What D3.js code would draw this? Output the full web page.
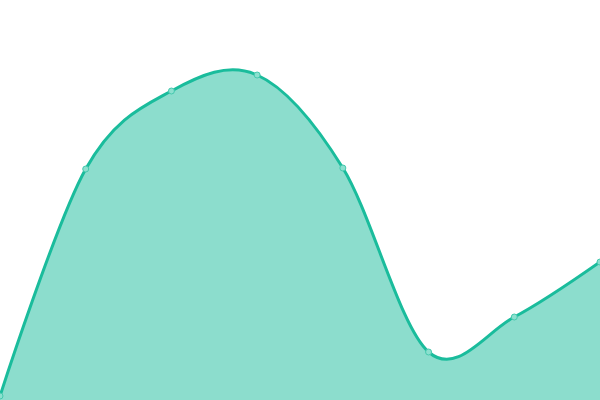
<!DOCTYPE html>
<html>
<head>
<meta charset="utf-8">
<script src="https://cdn.jsdelivr.net/npm/d3@7"></script>
<style>
  html, body { margin:0; padding:0; background:#fff; }
  svg { display:block; }
</style>
</head>
<body>
<svg id="svg-area" width="600" height="400"></svg>
<script>
var svg = d3.select("#svg-area");
var w = 600, h = 400;

// Data
var categories = ["A", "B", "C", "D", "E", "F", "G", "H"];
var values = [4, 231, 309, 325, 232, 48, 83, 138];

var data = categories.map(function(c, i) { return { cat: c, val: values[i] }; });

// Scales
var xScale = d3.scalePoint()
               .domain(categories)
               .range([0, w]);
var yScale = d3.scaleLinear()
               .domain([0, 400])
               .range([h, 0]);

var area = d3.area()
             .x(function(d) { return xScale(d.cat); })
             .y0(h)
             .y1(function(d) { return yScale(d.val); })
             .curve(d3.curveCardinal);
var line = d3.line()
             .x(function(d) { return xScale(d.cat); })
             .y(function(d) { return yScale(d.val); })
             .curve(d3.curveCardinal);

svg.append("path")
   .datum(data)
   .attr("d", area)
   .style("fill", "#1abc9c")
   .style("fill-opacity", 0.5);

svg.append("path")
   .datum(data)
   .attr("d", line)
   .style("fill", "none")
   .style("stroke", "#1abc9c")
   .style("stroke-width", 3);

// points
svg.selectAll("dot")
   .data(data)
   .enter()
   .append("circle")
   .attr("cx", function(d) { return xScale(d.cat); })
   .attr("cy", function(d) { return yScale(d.val); })
   .attr("r", 3)
   .style("fill", "#8ce0cf")
   .style("stroke", "#45c9ae")
   .style("stroke-width", 1);
</script>
</body>
</html>
